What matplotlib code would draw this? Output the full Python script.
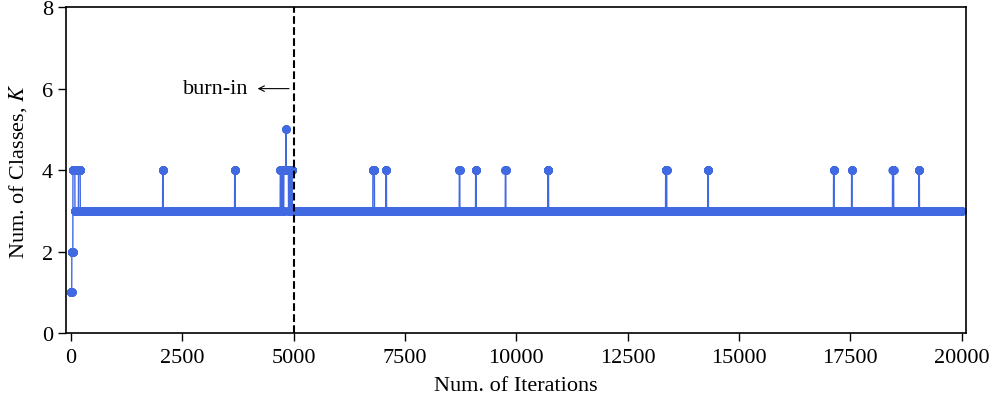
import numpy as np
import matplotlib
matplotlib.use("Agg")
import matplotlib.pyplot as plt

plt.rcParams['font.family'] = ['Liberation Serif', 'DejaVu Serif']
plt.rcParams['mathtext.fontset'] = 'stix'

# MCMC trace of K, stored as runs: iteration where a run starts and its value
n_iter = 20000
run_start = [0, 20, 45, 90, 170, 210,
             2060, 2072, 3676, 3688,
             4700, 4720, 4740, 4760, 4780, 4826, 4832, 4885, 4900, 4930, 4945, 4970,
             6780, 6815, 7073, 7085, 8720, 8732, 9086, 9098, 9753, 9765,
             10708, 10724, 13352, 13378, 14300, 14312, 17122, 17134,
             17527, 17536, 18446, 18472, 19036, 19050]
run_value = [1, 2, 4, 3, 4, 3,
             4, 3, 4, 3,
             4, 3, 4, 3, 4, 5, 4, 3, 4, 3, 4, 3,
             4, 3, 4, 3, 4, 3, 4, 3, 4, 3,
             4, 3, 4, 3, 4, 3, 4, 3,
             4, 3, 4, 3, 4, 3]
burn_in = 5000

lengths = np.diff(run_start + [n_iter])
K = np.repeat(run_value, lengths)
iters = np.arange(n_iter)

fig = plt.figure(figsize=(9.95, 4.06), dpi=100)
ax = fig.add_axes([0.0663, 0.177, 0.9047, 0.803])

ax.plot(iters, K, color='royalblue', marker='o', markersize=5, linewidth=1)
ax.axvline(burn_in, color='black', linestyle='--', linewidth=1.5)

ax.annotate('', xy=(4130, 6), xytext=(4960, 6),
            arrowprops=dict(arrowstyle='->', color='black', linewidth=0.8))
ax.text(3990, 6, 'burn-in', ha='right', va='center', fontsize=16)

ax.set_xlim(-110, 20100)
ax.set_ylim(0, 8)
ax.set_xticks(np.arange(0, 20001, 2500))
ax.set_yticks([0, 2, 4, 6, 8])
ax.tick_params(labelsize=16, length=6, width=1)
ax.tick_params(axis='x', pad=5)
ax.set_xlabel('Num. of Iterations', fontsize=16, labelpad=6)
ax.set_ylabel('Num. of Classes, $K$', fontsize=16, labelpad=9)
for s in ax.spines.values():
    s.set_linewidth(1.2)

fig.savefig('out.png', dpi=100)
